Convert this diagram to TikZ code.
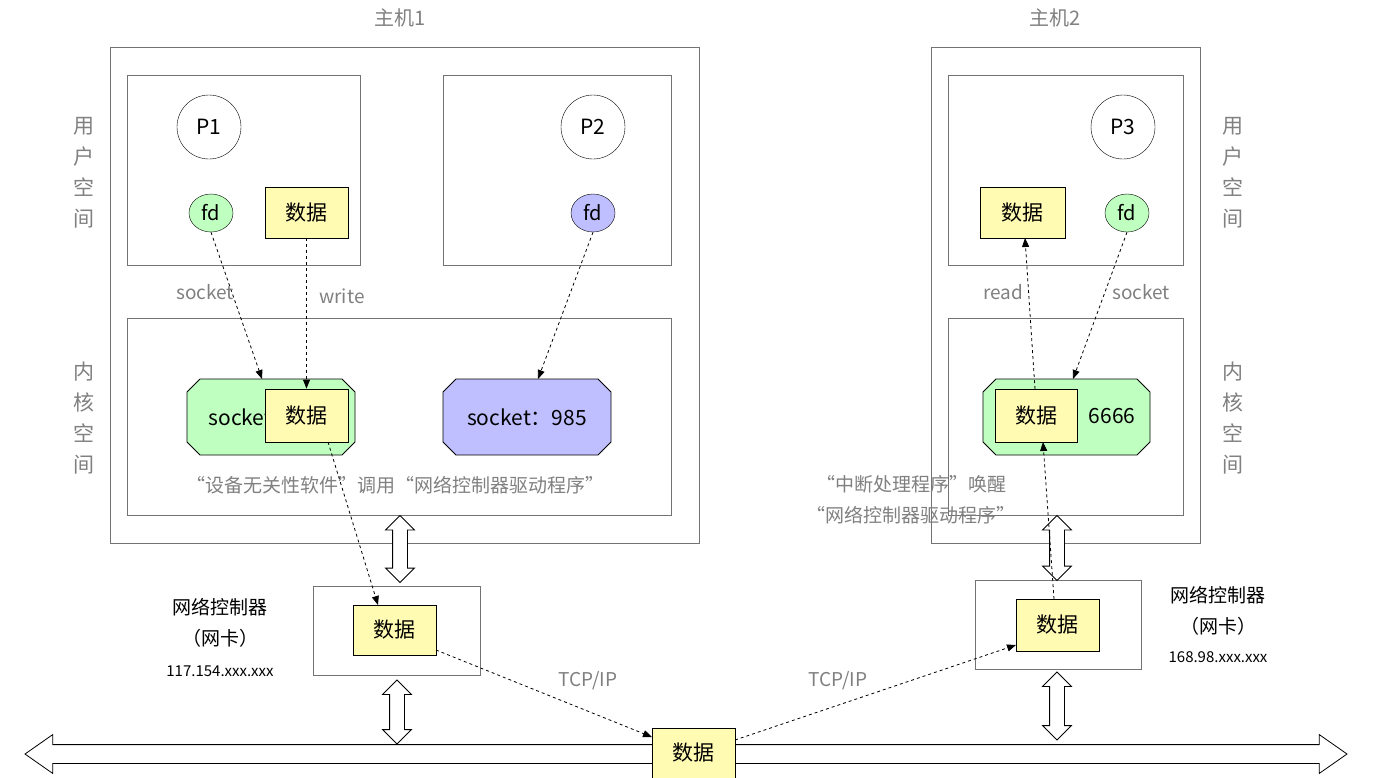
\documentclass[tikz,border=0pt]{standalone}
\usepackage{fontspec}
\setmainfont{Noto Sans CJK SC}
\usetikzlibrary{shapes.geometric,shapes.arrows,arrows.meta}
\newcommand\myoct[5]{\fill[#5] (#1+13,#2) -- (#3-13,#2) -- (#3,#2+13) -- (#3,#4-13) -- (#3-13,#4) -- (#1+13,#4) -- (#1,#4-13) -- (#1,#2+13) -- cycle;
 \draw[line width=0.8pt] (#1+13,#2) -- (#3-13,#2) -- (#3,#2+13) -- (#3,#4-13) -- (#3-13,#4) -- (#1+13,#4) -- (#1,#4-13) -- (#1,#2+13) -- cycle;}
\begin{document}
\begin{tikzpicture}[x=1pt,y=-1pt,
  box/.style={draw=black!55,line width=0.8pt},
  data/.style={draw=black,fill=yellow!30,line width=0.8pt,font=\fontsize{21}{21}\selectfont},
  proc/.style={draw=black,circle,minimum size=64pt,inner sep=0pt,font=\fontsize{21}{21}\selectfont,fill=white},
  fd/.style={draw=black,ellipse,minimum width=44pt,minimum height=38pt,inner sep=0pt,font=\fontsize{20}{20}\selectfont},
  big/.style={font=\fontsize{21}{21}\selectfont},
  lbl/.style={text=black!50,font=\fontsize{19}{31}\selectfont},
  dlbl/.style={font=\fontsize{19}{31}\selectfont},
  vert/.style={text=black!50,font=\fontsize{21}{31}\selectfont,align=center,text width=22pt},
  dsh/.style={dashed,line width=0.8pt,-{Triangle[length=9pt,width=7pt]}},
  dbl/.style={draw=black,fill=white,double arrow,shape border rotate=90,double arrow head extend=7pt,double arrow tip angle=90,minimum width=28pt,inner sep=7pt,line width=0.8pt}
]
\useasboundingbox (0,0) rectangle (1383,777);
% host 1
\draw[box] (110,47) rectangle (699,543);
\node[lbl,font=\fontsize{20}{20}\selectfont] (h1) at (400,18) {主机1};
\draw[box] (127,75) rectangle (360,265);
\draw[box] (443,75) rectangle (671,265);
\draw[box] (127,318) rectangle (671,515);
\node[vert] (u1) at (84,173) {用\\户\\空\\间};
\node[vert] (k1) at (84,418) {内\\核\\空\\间};
\node[proc] (p1) at (209,127) {P1};
\node[proc] (p2) at (593,127) {P2};
\node[fd,fill=green!25] (fd1) at (211,213) {fd};
\node[data,minimum width=83pt,minimum height=51pt] (d1) at (306.5,212.5) {数据};
\node[fd,fill=blue!25] (fd2) at (593,213) {fd};
\myoct{187}{379}{355}{455}{green!25}
\node[big,anchor=west] (s1) at (205,417) {socket};
\node[data,minimum width=83pt,minimum height=53pt] (d2) at (306.5,415.5) {数据};
\myoct{443}{379}{611}{455}{blue!25}
\node[big] (s2) at (527,417) {socket：985};
\node[lbl] (t1) at (395,485) {“设备无关性软件”调用“网络控制器驱动程序”};
% host 2
\draw[box] (931,47) rectangle (1200,543);
\node[lbl,font=\fontsize{20}{20}\selectfont] (h2) at (1055,18) {主机2};
\draw[box] (948,75) rectangle (1183,265);
\draw[box] (948,318) rectangle (1183,515);
\node[vert] (u2) at (1233,173) {用\\户\\空\\间};
\node[vert] (k2) at (1233,418) {内\\核\\空\\间};
\node[proc] (p3) at (1123,127) {P3};
\node[data,minimum width=85pt,minimum height=51pt] (d3) at (1022.5,212.5) {数据};
\node[fd,fill=green!25] (fd3) at (1127,213) {fd};
\myoct{983}{379}{1150}{455}{green!25}
\node[big] (n6) at (1112,416) {6666};
\node[data,minimum width=82pt,minimum height=53pt] (d4) at (1036,415.5) {数据};
\node[lbl,align=center] (t2) at (911,500) {“中断处理程序”唤醒\\“网络控制器驱动程序”};
% NICs
\draw[box] (313,586) rectangle (480,675);
\node[data,minimum width=83pt,minimum height=50pt] (d5) at (394.5,630) {数据};
\node[dlbl,align=center] (nl1) at (220,623) {网络控制器\\（网卡）};
\node[font=\fontsize{15}{15}\selectfont] (ip1) at (220,671) {117.154.xxx.xxx};
\draw[box] (975,580) rectangle (1141,669);
\node[data,minimum width=83pt,minimum height=52pt] (d6) at (1057.5,625) {数据};
\node[dlbl,align=center] (nl2) at (1218,611) {网络控制器\\（网卡）};
\node[font=\fontsize{15}{15}\selectfont] (ip2) at (1218,657) {168.98.xxx.xxx};
% bus
\node[draw=black,fill=white,double arrow,double arrow head extend=10pt,double arrow tip angle=70,minimum width=38pt,inner xsep=0pt,inner ysep=9pt,minimum height=1322pt,line width=0.8pt] (bus) at (686,754) {};
\node[data,minimum width=83pt,minimum height=50pt] (d7) at (693.5,753) {数据};
% vertical double arrows
\node[dbl,minimum height=67pt] (v1) at (400,549) {};
\node[dbl,minimum height=64pt] (v2) at (397,712) {};
\node[dbl,minimum height=65pt] (v3) at (1057,548) {};
\node[dbl,minimum height=68pt] (v4) at (1057,706) {};
% dashed arrows
\draw[dsh] (fd1.south) -- (262,379);
\node[lbl] (l1) at (205,292) {socket};
\draw[dsh] (d1.south) -- (d2.north);
\node[lbl] (l2) at (342,296) {write};
\draw[dsh] (fd2.south) -- (538,379);
\draw[dsh] (328,442) -- (378,605);
\draw[dsh] (436,650) -- (652,737);
\node[lbl] (l3) at (588,681) {TCP/IP};
\draw[dsh] (735,740) -- (1016,645);
\node[lbl] (l4) at (838,681) {TCP/IP};
\draw[dsh] (1054,599) -- (1043,442);
\draw[dsh] (1035,389) -- (1025,238);
\node[lbl] (l5) at (1003,292) {read};
\draw[dsh] (fd3.south) -- (1073,379);
\node[lbl] (l6) at (1141,292) {socket};
\end{tikzpicture}
\end{document}
